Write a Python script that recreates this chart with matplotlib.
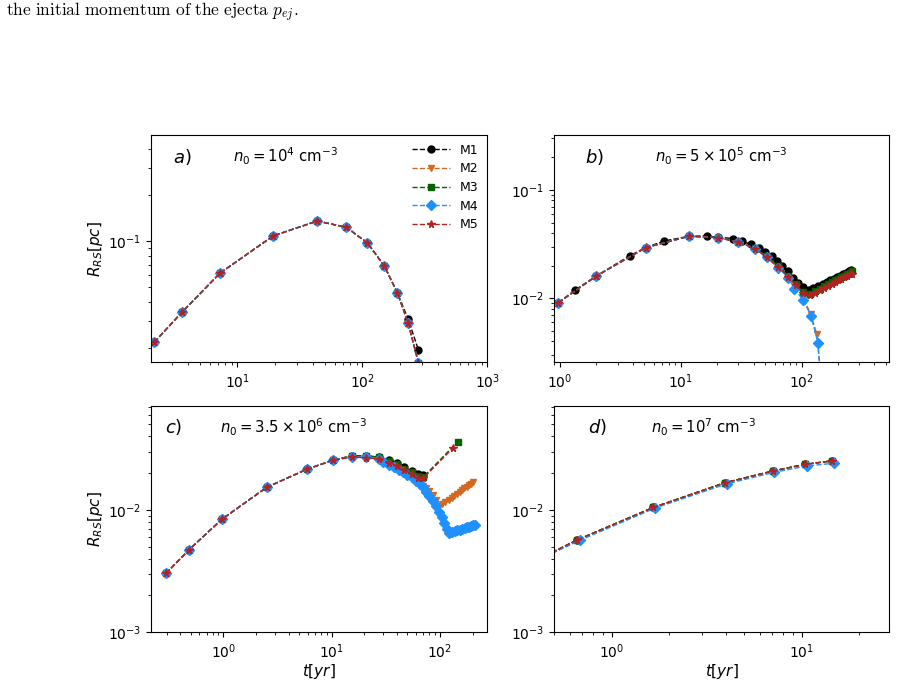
import numpy as np
import matplotlib
matplotlib.use("Agg")
import matplotlib.pyplot as plt

# ---- data ----
models = ["M1", "M2", "M3", "M4", "M5"]
colors = ["black", "chocolate", "darkgreen", "dodgerblue", "firebrick"]
markers = ["o", "v", "s", "D", "*"]

# panel a) n0 = 1e4
a_t = [2.17, 3.63, 7.31, 19.4, 43.6, 74.5, 110, 150, 191, 233, 281]
a_R_M1 = [0.0218, 0.0344, 0.0618, 0.108, 0.135, 0.123, 0.097, 0.0687, 0.0457, 0.0308, 0.0194]
a_R = [0.0218, 0.0344, 0.0618, 0.108, 0.135, 0.123, 0.097, 0.0687, 0.0457, 0.0290, 0.0160]

# panel b) n0 = 5e5
b_t_M1 = [0.97, 1.33, 1.99, 3.8, 5.15, 7.3, 11.75, 16.4, 20.4, 26.9, 32.3, 37.9, 44.1,
          50.1, 56.5, 63, 69.2, 76.7, 84.4, 93.8, 102, 114, 125, 137, 149, 161, 173,
          185, 197, 209, 221, 233, 245, 257]
b_R_M1 = [0.0091, 0.0119, 0.0160, 0.0248, 0.0294, 0.0338, 0.0374, 0.0376, 0.0366, 0.0356,
          0.0335, 0.0315, 0.0294, 0.0266, 0.0244, 0.0220, 0.0198, 0.0178, 0.0155, 0.0137,
          0.0127, 0.0118, 0.0124, 0.0130, 0.0136, 0.0141, 0.0147, 0.0152, 0.0157, 0.0162,
          0.0167, 0.0172, 0.0177, 0.0181]
b_t = [0.97, 1.99, 5.15, 11.75, 20.4, 29.9, 41.1, 51.4, 63.8, 77.6, 89.8, 103, 117,
       129, 141, 153, 165, 177, 189, 201, 213, 225, 237, 249, 261]
b_R_M3 = [0.0091, 0.0160, 0.0294, 0.0374, 0.0363, 0.0330, 0.0290, 0.0243, 0.0198, 0.0160,
          0.0134, 0.0113, 0.0110, 0.0117, 0.0123, 0.0129, 0.0135, 0.0141, 0.0147, 0.0152,
          0.0157, 0.0162, 0.0167, 0.0172, 0.0177]
b_R_M5 = [0.0091, 0.0160, 0.0294, 0.0374, 0.0363, 0.0330, 0.0288, 0.0240, 0.0195, 0.0157,
          0.0132, 0.0111, 0.0106, 0.0112, 0.0118, 0.0124, 0.0130, 0.0136, 0.0141, 0.0146,
          0.0151, 0.0156, 0.0161, 0.0166, 0.0169]
b_t_M2 = [0.97, 1.99, 5.15, 11.75, 20.4, 29.9, 41.1, 51.4, 63.8, 77.6, 89.8, 103, 119, 133, 147]
b_R_M2 = [0.0091, 0.0160, 0.0294, 0.0374, 0.0363, 0.0330, 0.0288, 0.0240, 0.0195, 0.0157,
          0.0130, 0.0101, 0.0071, 0.0047, 0.0016]
b_t_M4 = [0.97, 1.99, 5.15, 11.75, 20.4, 29.9, 41.1, 51.4, 63.8, 77.6, 87, 103, 119.5, 136, 150]
b_R_M4 = [0.0091, 0.0160, 0.0294, 0.0374, 0.0363, 0.0330, 0.0288, 0.0238, 0.0192, 0.0155,
          0.0123, 0.0096, 0.0069, 0.0039, 0.0010]

# panel c) n0 = 3.5e6
c_t_early = [0.296, 0.48, 0.97, 2.51, 5.89, 10.4, 15.3, 20.7, 27.2]
c_R_early = [0.00303, 0.00471, 0.0084, 0.0153, 0.0215, 0.0256, 0.0277, 0.0278, 0.0270]
c_t_M1 = c_t_early + [33.8, 40.4, 46.8, 54.8, 63, 70.2]
c_R_M1 = c_R_early + [0.0256, 0.0244, 0.0223, 0.0208, 0.0197, 0.0193]
c_t_M3 = c_t_early + [33.8, 40.4, 46.8, 54.8, 63, 70.2, 146]
c_R_M3 = c_R_early + [0.0252, 0.0238, 0.0218, 0.0203, 0.0190, 0.0186, 0.0361]
c_t_M5 = c_t_early + [33.8, 40.4, 46.8, 54.8, 63, 70.2, 131]
c_R_M5 = [0.00303, 0.00471, 0.0084, 0.0153, 0.0215, 0.0256, 0.0270, 0.0268, 0.0260,
          0.0244, 0.0229, 0.0212, 0.0197, 0.0184, 0.0182, 0.0319]
c_t_M4 = c_t_early + [30, 34, 38, 42, 46, 50, 55, 60, 65, 70, 75, 80, 86, 92, 98, 104, 110,
                      116, 121, 129, 137, 145, 153, 161, 169, 177, 185, 193, 201, 209]
c_R_M4 = [0.00303, 0.00471, 0.0084, 0.0153, 0.0215, 0.0256, 0.0272, 0.0270, 0.0262,
          0.0245, 0.0232, 0.0223, 0.0214, 0.0204, 0.0195, 0.0185, 0.0172, 0.0162, 0.0153,
          0.0141, 0.0130, 0.0119, 0.0108, 0.0097, 0.0087, 0.0078, 0.0070, 0.0065,
          0.0066, 0.0067, 0.0068, 0.0069, 0.0070, 0.0071, 0.0072, 0.0073, 0.0074, 0.0075, 0.0076]
c_t_M2 = c_t_early + [30, 34, 38, 42, 46, 50, 55, 60, 65, 70, 75, 80, 86, 91, 96, 104, 112,
                      120, 128, 136, 144, 152, 160, 168, 176, 184, 192, 200]
c_R_M2 = [0.00303, 0.00471, 0.0084, 0.0153, 0.0215, 0.0256, 0.0272, 0.0270, 0.0262,
          0.0245, 0.0232, 0.0223, 0.0214, 0.0204, 0.0195, 0.0185, 0.0173, 0.0163, 0.0157,
          0.0150, 0.0143, 0.0132, 0.0120, 0.0108, 0.0111, 0.0116, 0.0121, 0.0126, 0.0131,
          0.0136, 0.0141, 0.0145, 0.0150, 0.0154, 0.0159, 0.0163, 0.0168]

# panel d) n0 = 1e7
d_t = [0.3, 0.659, 1.66, 3.95, 7.03, 10.4, 14.4]
d_R = [0.0031, 0.00569, 0.0105, 0.0167, 0.0208, 0.0236, 0.0252]
d_t_M4 = [0.3, 0.68, 1.70, 4.05, 7.15, 10.6, 14.8]
d_R_M4 = [0.0031, 0.00565, 0.0104, 0.0164, 0.0203, 0.0229, 0.0241]

panel_data = {
    "a": [(a_t, a_R_M1), (a_t, a_R), (a_t, a_R), (a_t, a_R), (a_t, a_R)],
    "b": [(b_t_M1, b_R_M1), (b_t_M2, b_R_M2), (b_t, b_R_M3), (b_t_M4, b_R_M4), (b_t, b_R_M5)],
    "c": [(c_t_M1, c_R_M1), (c_t_M2, c_R_M2), (c_t_M3, c_R_M3), (c_t_M4, c_R_M4), (c_t_M5, c_R_M5)],
    "d": [(d_t, d_R), (d_t, d_R), (d_t, d_R), (d_t_M4, d_R_M4), (d_t, d_R)],
}
panel_n0 = {
    "a": r"$n_0 = 10^4$ cm$^{-3}$",
    "b": r"$n_0 = 5 \times 10^5$ cm$^{-3}$",
    "c": r"$n_0 = 3.5 \times 10^6$ cm$^{-3}$",
    "d": r"$n_0 = 10^7$ cm$^{-3}$",
}

# ---- layout ----
fig = plt.figure(figsize=(8.99, 6.84), dpi=100)
W, H = 899, 684

def px_axes(x0, x1, y0, y1):
    return fig.add_axes([x0 / W, 1 - y1 / H, (x1 - x0) / W, (y1 - y0) / H])

axes = {
    "a": px_axes(150.7, 487.3, 135, 362.3),
    "b": px_axes(554.3, 889, 135, 362.3),
    "c": px_axes(151, 486.5, 406, 632.3),
    "d": px_axes(554.3, 889, 406, 632.3),
}
xlims = {"a": (2.03, 1000), "b": (0.897, 528), "c": (0.215, 269), "d": (0.499, 28.8)}
ylims = {"a": (0.0161, 0.493), "b": (0.00256, 0.322), "c": (1e-3, 0.0708), "d": (1e-3, 0.0708)}
label_pos = {"a": (0.066, 0.905), "b": (0.092, 0.905), "c": (0.042, 0.905), "d": (0.10, 0.905)}
n0_pos = {"a": (0.245, 0.905), "b": (0.3, 0.905), "c": (0.206, 0.905), "d": (0.29, 0.905)}

for key, ax in axes.items():
    for (t, R), m, c, mk in zip(panel_data[key], models, colors, markers):
        ms = 5.5 if mk == "*" else 5
        ax.plot(t, R, ls="--", lw=1, color=c, marker=mk, ms=ms, label=m)
    ax.set_xscale("log")
    ax.set_yscale("log")
    ax.set_xlim(*xlims[key])
    ax.set_ylim(*ylims[key])
    ax.text(*label_pos[key], f"${key})$", transform=ax.transAxes,
            fontsize=13, ha="left", va="center")
    ax.text(*n0_pos[key], panel_n0[key], transform=ax.transAxes,
            fontsize=10.7, ha="left", va="center")

axes["a"].set_ylabel(r"$R_{RS}[pc]$", fontsize=11, labelpad=2)
axes["c"].set_ylabel(r"$R_{RS}[pc]$", fontsize=11, labelpad=2)
axes["c"].set_xlabel(r"$t[yr]$", fontsize=11, labelpad=1)
axes["d"].set_xlabel(r"$t[yr]$", fontsize=11, labelpad=1)

axes["a"].legend(loc="upper right", frameon=False, fontsize=9, handlelength=3.0,
                 labelspacing=0.45, borderaxespad=0.3)

# caption fragment from the page above the figure
fig.text(6 / W, 1 - 12 / H, r"$\mathrm{the\ initial\ momentum\ of\ the\ ejecta}\ p_{ej}.$",
         math_fontfamily="cm", fontsize=12.5, ha="left", va="center")

fig.savefig("out.png", dpi=100)
